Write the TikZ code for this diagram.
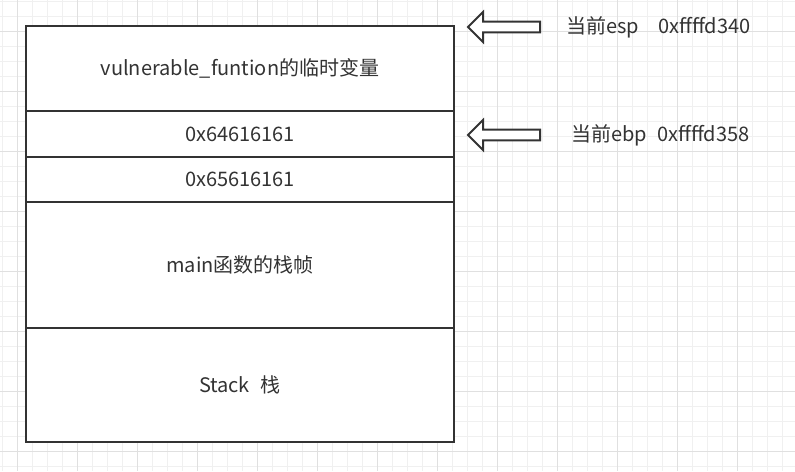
\documentclass[tikz,border=0pt]{standalone}
\usepackage{fontspec}
\setmainfont{Noto Sans CJK SC}
\usetikzlibrary{positioning}
\definecolor{ink}{HTML}{333333}
\definecolor{gridminor}{HTML}{F0F0F0}
\definecolor{gridmajor}{HTML}{E0E0E0}
\tikzset{
  cell/.style={rectangle,draw=ink,line width=1.5pt,fill=white,
    minimum width=321pt,inner sep=0pt,outer sep=0pt,
    font=\fontsize{15}{18}\selectfont,text=ink},
  % hollow pointer arrows on the right
  ptr/.style={draw=ink,line width=1.5pt,fill=white,line join=miter},
  ptrlab/.style={anchor=west,inner sep=0pt,
    font=\fontsize{15}{18}\selectfont,text=ink}
}
\newcommand{\leftptr}[1]{%
  \draw[ptr] (#1) -- ++(15,-15) -- ++(0,9.7) -- ++(57,0) -- ++(0,10.6)
    -- ++(-57,0) -- ++(0,9.7) -- cycle;}
\begin{document}
\begin{tikzpicture}[x=0.75pt,y=-0.75pt]
  \useasboundingbox (0,0) rectangle (795,471);
  \fill[white] (0,0) rectangle (795,471);
  % background grid
  \foreach \gx in {2,17,...,795} \draw[gridminor,line width=0.75pt] (\gx,0) -- (\gx,471);
  \foreach \gy in {1,16,...,471} \draw[gridminor,line width=0.75pt] (0,\gy) -- (795,\gy);
  \foreach \gx in {17,77,...,795} \draw[gridmajor,line width=0.75pt] (\gx,0) -- (\gx,471);
  \foreach \gy in {31,91,...,471} \draw[gridmajor,line width=0.75pt] (0,\gy) -- (795,\gy);

  % stack cells
  \node[cell,anchor=north west,minimum height=63.75pt] (locals) at (26,26)
    {\raisebox{-1.5pt}{vulnerable\_funtion的临时变量}};
  \node[cell,minimum height=34.5pt,below=0pt of locals] (ebpslot) {0x64616161};
  \node[cell,minimum height=33.75pt,below=0pt of ebpslot] (retslot) {0x65616161};
  \node[cell,minimum height=94.5pt,below=0pt of retslot] (mainframe) {main函数的栈帧};
  \node[cell,minimum height=85.5pt,below=0pt of mainframe] (stack) {Stack\hspace{0.55em}栈};

  % pointers
  \coordinate (esptip) at (468,27);
  \coordinate (ebptip) at (468,135);
  \leftptr{esptip}
  \leftptr{ebptip}
  \node[ptrlab] (esplab) at (566,27) {当前esp\hspace{0.95em}0xffffd340};
  \node[ptrlab] (ebplab) at (571,135) {当前ebp\hspace{0.5em}0xffffd358};
\end{tikzpicture}
\end{document}
